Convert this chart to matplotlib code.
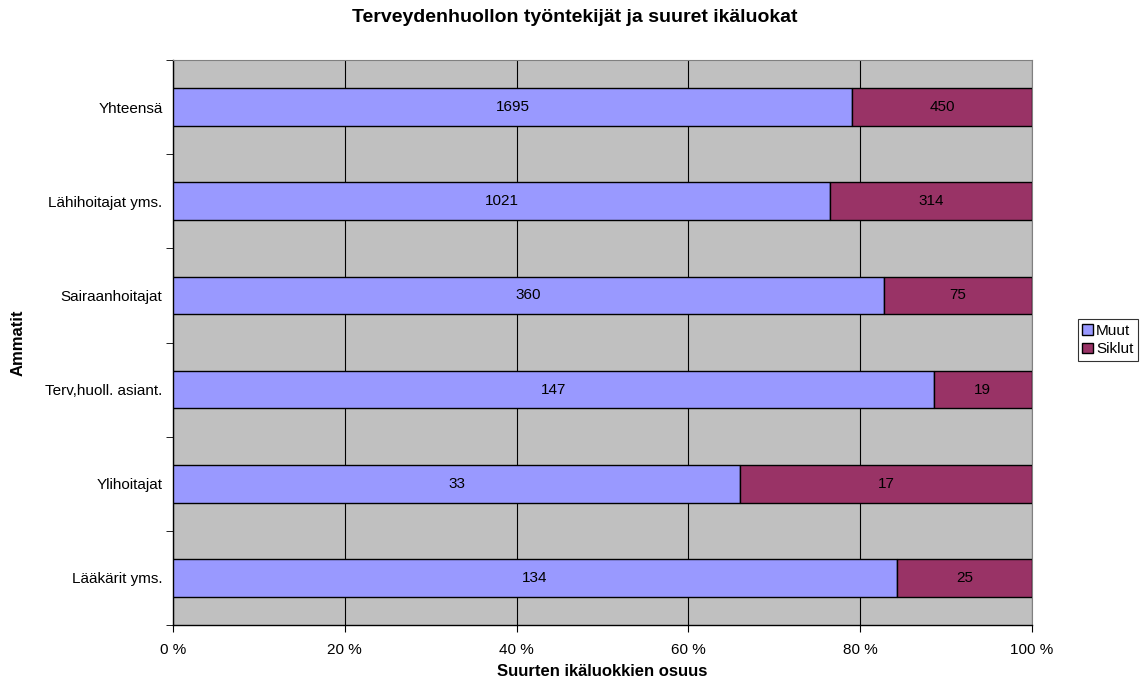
import matplotlib.pyplot as plt
from matplotlib.ticker import FixedLocator, FuncFormatter
import numpy as np

plt.rcParams['font.family'] = ['Liberation Sans', 'DejaVu Sans']

# data, bottom to top
categories = ['Lääkärit yms.', 'Ylihoitajat', 'Terv,huoll. asiant.',
              'Sairaanhoitajat', 'Lähihoitajat yms.', 'Yhteensä']
muut = [134, 33, 147, 360, 1021, 1695]
siklut = [25, 17, 19, 75, 314, 450]

muut = np.array(muut, dtype=float)
siklut = np.array(siklut, dtype=float)
total = muut + siklut
muut_pct = muut / total * 100
siklut_pct = siklut / total * 100

fig = plt.figure(figsize=(11.46, 6.84), dpi=100)
ax = fig.add_axes([173 / 1146, 1 - 625 / 684, (1032 - 173) / 1146, (625 - 60) / 684])
ax.set_facecolor('#C0C0C0')

y = np.arange(len(categories))
ax.barh(y, muut_pct, height=0.4, color='#9999FF', edgecolor='black', linewidth=1, label='Muut', zorder=3)
ax.barh(y, siklut_pct, left=muut_pct, height=0.4, color='#993366', edgecolor='black', linewidth=1, label='Siklut', zorder=3)

for i in range(len(categories)):
    ax.text(muut_pct[i] / 2, y[i], '%d' % muut[i], ha='center', va='center', fontsize=11, zorder=4)
    ax.text(muut_pct[i] + siklut_pct[i] / 2, y[i], '%d' % siklut[i], ha='center', va='center', fontsize=11, zorder=4)

ax.set_xlim(0, 100)
ax.set_ylim(-0.5, len(categories) - 0.5)
ax.set_xticks([0, 20, 40, 60, 80, 100])
ax.xaxis.set_major_formatter(FuncFormatter(lambda v, p: '%d %%' % v))
ax.grid(axis='x', color='black', linewidth=0.8, zorder=1)

ax.set_yticks(y)
ax.set_yticklabels(categories)
ax.yaxis.set_minor_locator(FixedLocator(np.arange(-0.5, len(categories), 1.0)))
ax.tick_params(axis='y', which='major', length=0, pad=7.5, labelsize=11)
ax.tick_params(axis='y', which='minor', length=5, direction='out', color='black')
ax.tick_params(axis='x', length=5, direction='out', labelsize=11, pad=8)

for s in ['top', 'right']:
    ax.spines[s].set_color('#808080')
    ax.spines[s].set_linewidth(0.8)
for s in ['left', 'bottom']:
    ax.spines[s].set_color('black')
    ax.spines[s].set_linewidth(1)

ax.set_xlabel('Suurten ikäluokkien osuus', fontsize=12, fontweight='bold')
ax.set_ylabel('Ammatit', fontsize=12, fontweight='bold')
ax.xaxis.set_label_coords(0.5, -(672 - 625) / 565)
ax.yaxis.set_label_coords((18 - 173) / 859, 0.5)
ax.xaxis.label.set_va('center')
ax.yaxis.label.set_va('center')
fig.text(575 / 1146, 1 - 17 / 684, 'Terveydenhuollon työntekijät ja suuret ikäluokat',
         ha='center', va='center', fontsize=14, fontweight='bold')

leg = fig.legend(loc='center', bbox_to_anchor=(1108 / 1146, 1 - 340 / 684), fontsize=11,
                 frameon=True, fancybox=False, edgecolor='black', handlelength=0.7, handleheight=0.7,
                 handletextpad=0.2, borderpad=0.3, labelspacing=0.3, borderaxespad=0)
leg.get_frame().set_linewidth(0.8)

fig.savefig('out.png', dpi=100)
